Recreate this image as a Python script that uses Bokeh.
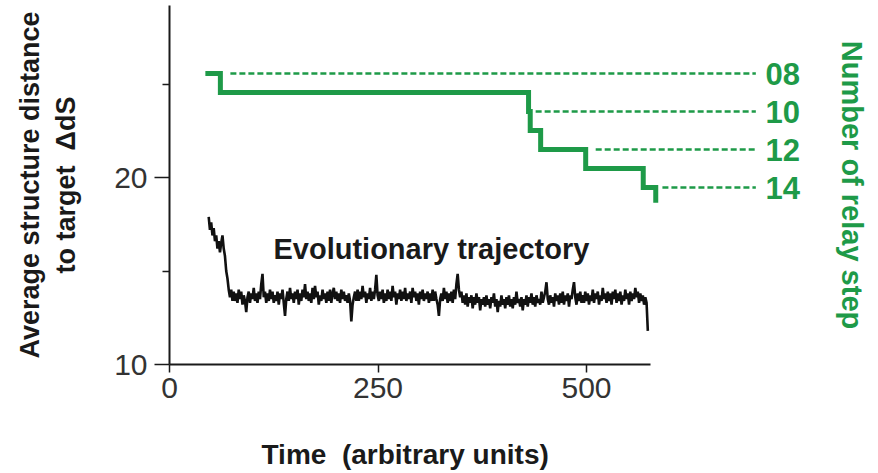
from bokeh.plotting import figure
from bokeh.models import Range1d, LinearAxis, FixedTicker, PrintfTickFormatter, Title
from bokeh.core.properties import value
from bokeh.embed import file_html
from bokeh.resources import INLINE

# ---------------- data ----------------
x_ticks = [0, 250, 500]
y_ticks = [10, 20]
y_minor_ticks = [15, 25]

# relay-step curve (time at which the level starts, number of relay steps)
step_time = [43, 61, 430.5, 432.5, 445, 499, 568, 583]
step_level = [8, 9, 10, 11, 12, 13, 14, 14.8]

# dashed reference levels and labels
level_values = [8, 10, 12, 14]
level_line_start = [73, 439, 511, 591]

# evolutionary trajectory, sampled every 1.5 time units from t = 47
traj_start = 47
traj_step = 1.5
traj_values = [
    17.9, 17.2, 17.6, 16.9, 17.3, 16.6, 16.9, 16.2, 16.6, 16.0, 16.5, 16.9, 16.2, 15.8, 15.0, 14.6, 14.0, 13.6, 14.0, 13.4,
    13.9, 13.4, 13.8, 13.3, 14.0, 13.5, 13.9, 13.2, 13.7, 13.4, 12.8, 13.6, 13.9, 13.3, 13.8, 13.5, 14.1, 13.4, 13.8, 13.3,
    13.9, 13.5, 14.3, 14.85, 13.6, 13.9, 13.3, 13.8, 13.4, 14.0, 13.5, 13.9, 13.3, 13.7, 13.4, 13.9, 13.2, 13.8, 13.5, 14.0,
    13.3, 12.6, 13.5, 13.9, 13.4, 14.1, 13.5, 13.8, 13.3, 13.9, 13.5, 14.0, 13.2, 13.8, 13.4, 14.0, 13.6, 14.3, 13.5, 13.9,
    13.4, 13.8, 13.3, 14.1, 13.5, 14.2, 13.6, 13.9, 13.2, 13.7, 13.4, 14.0, 13.5, 13.8, 13.3, 13.9, 13.4, 14.0, 13.3, 13.8,
    14.1, 13.5, 13.9, 13.4, 13.8, 13.3, 14.0, 13.5, 13.9, 13.4, 13.7, 13.3, 13.8, 13.4, 12.3, 13.2, 13.6, 13.9, 13.4, 14.0,
    13.4, 13.9, 13.5, 14.2, 13.6, 13.9, 13.3, 13.8, 13.5, 14.1, 13.4, 13.9, 13.5, 14.0, 14.8, 13.7, 13.4, 13.9, 13.5, 14.0,
    13.3, 13.8, 13.4, 14.0, 13.5, 13.9, 13.4, 14.2, 13.6, 13.9, 13.2, 13.8, 13.5, 14.0, 13.4, 13.9, 13.5, 14.1, 13.4, 13.8,
    13.5, 13.9, 13.3, 14.1, 13.6, 13.9, 13.4, 13.8, 13.2, 13.9, 13.5, 14.0, 13.4, 13.8, 13.5, 13.9, 13.3, 13.8, 13.4, 14.0,
    13.4, 13.9, 13.5, 13.2, 12.6, 13.5, 13.8, 13.4, 14.1, 13.5, 13.9, 13.3, 13.8, 13.4, 13.9, 13.3, 14.0, 13.5, 14.3, 14.85,
    14.0, 13.6, 13.9, 13.3, 13.7, 13.2, 13.8, 13.1, 13.6, 13.3, 13.7, 13.0, 13.6, 13.2, 13.8, 13.3, 13.6, 12.9, 13.5, 13.2,
    13.6, 13.1, 13.7, 13.2, 13.5, 13.0, 13.6, 13.3, 13.8, 13.1, 13.5, 12.8, 13.4, 13.1, 13.7, 13.2, 13.5, 13.0, 13.6, 13.2,
    13.7, 13.1, 13.5, 13.0, 13.6, 13.2, 13.9, 13.3, 13.5, 13.1, 13.6, 12.9, 13.5, 13.2, 13.7, 13.1, 13.6, 13.3, 13.8, 13.2,
    13.6, 13.1, 13.7, 13.3, 13.5, 13.2, 13.9, 13.3, 13.6, 13.9, 14.4, 13.5, 13.2, 13.7, 13.3, 13.6, 13.1, 13.8, 13.4, 13.7,
    13.2, 13.8, 13.3, 13.9, 13.2, 13.7, 13.4, 13.8, 13.1, 13.7, 13.5, 14.0, 14.4, 13.6, 13.2, 13.8, 13.4, 13.9, 13.3, 13.7,
    13.3, 13.9, 13.4, 13.8, 13.2, 13.7, 13.4, 14.0, 13.3, 13.8, 13.5, 13.9, 13.2, 13.7, 13.4, 14.1, 13.5, 13.8, 13.3, 13.9,
    13.4, 13.8, 13.2, 13.9, 13.5, 14.0, 13.3, 13.8, 13.4, 13.9, 13.2, 13.7, 13.4, 14.0, 13.5, 13.8, 13.2, 13.9, 13.4, 13.8,
    13.5, 14.1, 13.6, 13.9, 13.3, 13.8, 13.4, 13.7, 13.2, 13.6, 13.3,
]
traj_end_time = 573.5
traj_end_value = 11.8

traj_t = [traj_start + traj_step * i for i in range(len(traj_values))] + [traj_end_time]
traj_v = traj_values + [traj_end_value]

# ---------------- styling ----------------
GREEN = "#1e9a48"
INK = "#1a1a1a"
TICK_INK = "#333333"
FONT = "Liberation Sans"

p = figure(width=870, height=472, output_backend="svg", toolbar_location=None,
           x_range=Range1d(0, 705), y_range=Range1d(10, 29.2),
           min_border_left=169, min_border_right=113,
           min_border_top=5, min_border_bottom=108)
p.outline_line_color = None
p.grid.visible = False
p.background_fill_color = "white"
p.border_fill_color = "white"
p.extra_y_ranges = {"steps": Range1d(start=23.316, end=4.42)}

# x axis
xa = p.xaxis[0]
xa.ticker = FixedTicker(ticks=x_ticks)
xa.bounds = (0, 577)
xa.axis_line_width = 2
xa.axis_line_color = INK
xa.major_tick_out = 8
xa.major_tick_in = 0
xa.major_tick_line_width = 1.5
xa.major_tick_line_color = INK
xa.minor_tick_line_color = None
xa.major_label_text_font = FONT
xa.major_label_text_font_size = "30px"
xa.major_label_text_color = TICK_INK
xa.major_label_standoff = 5
# blank label used only as vertical spacing before the title
xa.axis_label = "\u00a0"
xa.axis_label_text_font_size = "10px"
xa.axis_label_standoff = 22

# y axis
ya = p.yaxis[0]
ya.ticker = FixedTicker(ticks=y_ticks, minor_ticks=y_minor_ticks)
ya.axis_line_width = 2
ya.axis_line_color = INK
ya.major_tick_out = 15
ya.major_tick_in = 0
ya.minor_tick_out = 7
ya.minor_tick_in = 0
ya.major_tick_line_width = 1.5
ya.minor_tick_line_width = 1.5
ya.major_tick_line_color = INK
ya.minor_tick_line_color = INK
ya.major_label_text_font = FONT
ya.major_label_text_font_size = "30px"
ya.major_label_text_color = TICK_INK
ya.major_label_standoff = 7
ya.axis_label = "Average structure distance\nto target\u00a0\u00a0\u0394dS"
ya.axis_label_text_font = FONT
ya.axis_label_text_font_size = "27px"
ya.axis_label_text_font_style = "bold"
ya.axis_label_text_color = INK
ya.axis_label_standoff = 30

# right axis: number of relay steps
ra = LinearAxis(y_range_name="steps", ticker=FixedTicker(ticks=level_values),
                formatter=PrintfTickFormatter(format="%02d"))
ra.axis_line_color = None
ra.major_tick_line_color = None
ra.minor_tick_line_color = None
ra.major_tick_out = 0
ra.major_tick_in = 0
ra.major_label_standoff = 8
ra.major_label_text_font = FONT
ra.major_label_text_font_size = "31px"
ra.major_label_text_font_style = "bold"
ra.major_label_text_color = GREEN
ra.axis_label = "Number of relay step"
ra.axis_label_text_font = FONT
ra.axis_label_text_font_size = "29px"
ra.axis_label_text_font_style = "bold"
ra.axis_label_text_color = GREEN
ra.axis_label_standoff = 33
p.add_layout(ra, "right")

# x axis title (centred under the drawn axis line)
p.add_layout(Title(text="Time\u00a0\u00a0(arbitrary units)", align="left", offset=92,
                   text_font=FONT, text_font_size="28px", text_font_style="bold",
                   text_color=INK, standoff=0), "below")

# glyphs
p.segment(x0=level_line_start, y0=level_values,
          x1=[p.x_range.end - 2] * len(level_values), y1=level_values,
          y_range_name="steps", line_color=GREEN, line_width=2.5, line_dash="6 3")
p.step(step_time, step_level, mode="after", y_range_name="steps",
       line_color=GREEN, line_width=5, line_join="miter")
p.line(traj_t, traj_v, line_color="#111111", line_width=2.6)

p.text(x=[314], y=[16.2], text=["Evolutionary trajectory"],
       text_font=value(FONT), text_font_size="29px", text_font_style="bold",
       text_color=INK, text_align="center", text_baseline="middle")

open("out.html", "w").write(file_html(p, INLINE))
